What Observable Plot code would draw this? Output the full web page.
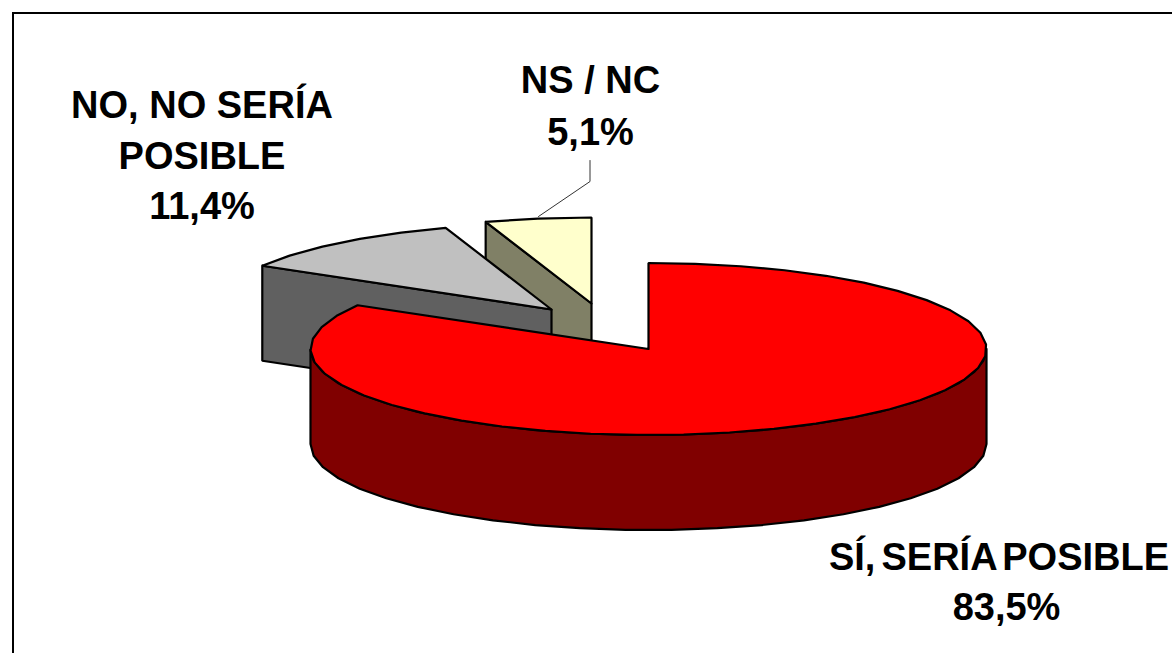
<!DOCTYPE html>
<html><head><meta charset="utf-8">
<script src="https://cdn.jsdelivr.net/npm/d3@7"></script>
<script src="https://cdn.jsdelivr.net/npm/@observablehq/plot@0.6"></script>
<style>html,body{margin:0;padding:0;background:#fff;overflow:hidden}svg{display:block}</style>
</head><body><div id="chart"></div>
<script>
// Data, in the order the slices run clockwise from 12 o'clock
const categories = ["SÍ, SERÍA POSIBLE", "NO, NO SERÍA POSIBLE", "NS / NC"];
const shares = [83.5, 11.4, 5.1];
const valueLabels = ["83,5%", "11,4%", "5,1%"];

// Look
const topColors = ["#ff0000", "#c0c0c0", "#ffffcc"];
const wallColors = ["#800000", "#606060", "#808066"];
const apexX = [648, 551, 591];
const apexY = [348.5, 309, 303];
const radiusX = [338, 336, 336];
const RY = 86, DEPTH = 95, STEP = 8, FONT = 38;

// Label lines: text, x centre, baseline
const labelText = ["NO, NO SERÍA", "POSIBLE", valueLabels[1], "NS / NC", valueLabels[2], categories[0], valueLabels[0]];
const labelX = [201.5, 201.5, 201.5, 590, 590, 998.5, 1006];
const labelBase = [117, 168, 218, 92, 144, 569, 619];
const leaderX = [538, 589.5, 589.5];
const leaderY = [216, 181, 160];

const rad = d => d * Math.PI / 180;
let cum = 0;
const slices = shares.map((s, i) => {
  const a0 = cum * 3.6; cum += s; const a1 = cum * 3.6;
  const pt = (a, drop = 0) => ({x: apexX[i] + radiusX[i] * Math.sin(rad(a)), y: apexY[i] - RY * Math.cos(rad(a)) + drop});
  const arc = (from, to, drop = 0) => {
    const pts = [], n = Math.max(1, Math.round(Math.abs(to - from) / STEP));
    for (let k = 0; k <= n; k++) pts.push(pt(from + (to - from) * k / n, drop));
    return pts;
  };
  const apex = {x: apexX[i], y: apexY[i]};
  const top = [apex, ...arc(a0, a1), apex];
  return {a0, a1, pt, arc, apex, top};
});

const [si, no, ns] = slices;
const close = p => [...p, p[0]];
// Cut face hanging below a slice's start radius
const cutFace = s => {
  const e = s.pt(s.a0);
  return close([e, s.apex, {x: s.apex.x, y: s.apex.y + DEPTH}, {x: e.x, y: e.y + DEPTH}]);
};
const redWall = close([...si.arc(90, 270), ...si.arc(270, 90, DEPTH)]);

const poly = (pts, fill) => Plot.line(pts, {x: "x", y: "y", fill, stroke: "#000", strokeWidth: 2.2, strokeLinejoin: "miter"});

const labels = labelText.map((t, i) => ({t, x: labelX[i], y: labelBase[i] - FONT * 0.32}));

const plot = Plot.plot({
  width: 1172, height: 653,
  margin: 0,
  x: {domain: [0, 1172], range: [0, 1172], axis: null},
  y: {domain: [0, 653], range: [0, 653], axis: null},
  marks: [
    Plot.ruleX([12.5], {y1: 12, y2: 653, stroke: "#000", strokeWidth: 2}),
    Plot.ruleY([12.5], {x1: 12, x2: 1172, stroke: "#000", strokeWidth: 2}),
    // NS / NC
    poly(cutFace(ns), wallColors[2]),
    poly(ns.top, topColors[2]),
    // NO
    poly(cutFace(no), wallColors[1]),
    poly(no.top, topColors[1]),
    // SÍ
    poly(redWall, wallColors[0]),
    poly(si.top, topColors[0]),
    // leader
    Plot.line(leaderX.map((x, i) => ({x, y: leaderY[i]})), {x: "x", y: "y", stroke: "#333", strokeWidth: 1}),
    Plot.text(labels, {x: "x", y: "y", text: "t", fontSize: FONT, fontWeight: "bold", fontFamily: "Liberation Sans", fill: "#000", textAnchor: "middle"})
  ]
});
d3.select(plot).selectAll("text").filter(function () { return this.textContent === categories[0]; }).style("word-spacing", "-4.5px");
document.getElementById("chart").append(plot);
</script></body></html>
